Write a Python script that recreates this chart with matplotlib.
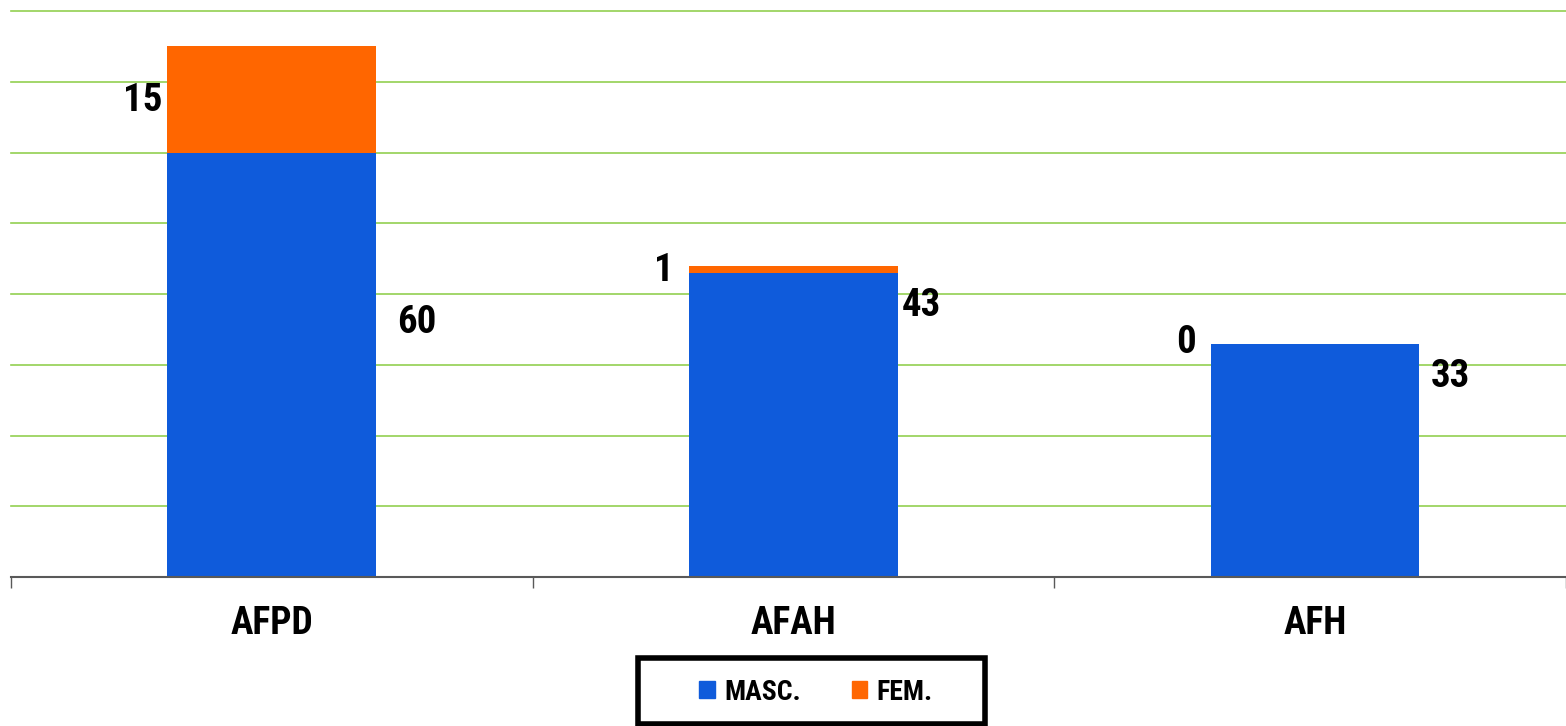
import matplotlib
matplotlib.use("Agg")
import matplotlib.pyplot as plt
from matplotlib import font_manager as fm
from matplotlib.patches import Patch, Rectangle

categories = ["AFPD", "AFAH", "AFH"]
masc = [60, 43, 33]
fem = [15, 1, 0]
series_names = ["MASC.", "FEM."]

# label layout (data coordinates)
masc_label_x = [0.24, 0.207, 0.221]
masc_label_y = [36.0, 38.4, 28.4]
fem_label_x = [-0.21, -0.229, -0.229]
fem_label_y = [67.3, 43.3, 33.2]

# pick a condensed bold face if any is installed
FONT = "DejaVu Sans"
STRETCH = "normal"
prefs = ["Liberation Sans Narrow", "Roboto Condensed", "Open Sans Condensed",
         "DejaVu Sans Condensed", "Noto Sans Condensed"]
names = {f.name for f in fm.fontManager.ttflist}
found = [p for p in prefs if p in names]
if found:
    FONT = found[0]
else:
    cond = [f for f in fm.fontManager.ttflist
            if ("ondensed" in f.name or "arrow" in f.name or
                str(f.stretch) in ("condensed", "semi-condensed", "extra-condensed")
                or (isinstance(f.stretch, int) and f.stretch < 500))]
    if cond:
        FONT = cond[0].name
        STRETCH = cond[0].stretch
plt.rcParams["font.family"] = [FONT, "DejaVu Sans"]
plt.rcParams["font.stretch"] = STRETCH

BLUE = "#0F5BDB"
ORANGE = "#FF6600"
GRID = "#92D050"

fig = plt.figure(figsize=(15.66, 7.26), dpi=100)
ax = fig.add_axes([11 / 1566, 1 - 577 / 726, 1555 / 1566, 566 / 726])

x = list(range(len(categories)))
ax.bar(x, masc, width=0.4, color=BLUE, zorder=3)
ax.bar(x, fem, width=0.4, bottom=masc, color=ORANGE, zorder=3)

XMAX = 2.481
ax.set_xlim(-0.5, XMAX)
ax.set_ylim(0, 80)
ax.set_yticks(range(0, 81, 10))
ax.yaxis.grid(True, color=GRID, linewidth=1.2, zorder=0)
for gl in ax.get_ygridlines():
    gl.set_clip_on(False)
ax.set_axisbelow(True)
ax.tick_params(axis="y", left=False, labelleft=False)
for s in ["top", "right", "left"]:
    ax.spines[s].set_visible(False)
ax.spines["bottom"].set_color("#595959")
ax.spines["bottom"].set_linewidth(1.5)
ax.spines["bottom"].set_zorder(4)

ax.set_xticks([-0.5, 0.5, 1.5, XMAX], minor=False)
ax.set_xticklabels([])
ax.tick_params(axis="x", which="major", length=8, width=1, color="#595959", direction="out")
ax.set_xticks(x, minor=True)
ax.set_xticklabels(categories, minor=True, fontsize=27, fontweight="bold")
ax.tick_params(axis="x", which="minor", length=0, pad=20)

for i in x:
    ax.text(x[i] + masc_label_x[i], masc_label_y[i], str(masc[i]), ha="left", va="center",
            fontsize=28, fontweight="bold", zorder=5)
    ax.text(x[i] + fem_label_x[i], fem_label_y[i], str(fem[i]), ha="right", va="center",
            fontsize=28, fontweight="bold", zorder=5)

# legend box
fig.patches.append(Rectangle((638 / 1566, 1 - 724 / 726), 347 / 1566, 66 / 726,
                             transform=fig.transFigure, fill=False, edgecolor="black",
                             linewidth=4, zorder=1))
handles = [Patch(color=BLUE), Patch(color=ORANGE)]
leg = fig.legend(handles, series_names, loc="center", bbox_to_anchor=(816 / 1566, 1 - 692 / 726),
                 ncol=2, frameon=False, handlelength=0.55, handleheight=0.55,
                 handletextpad=0.33, columnspacing=1.85, borderpad=0.2,
                 prop={"family": [FONT, "DejaVu Sans"], "weight": "bold", "size": 20,
                       "stretch": STRETCH})

fig.savefig("out.png", dpi=100)
